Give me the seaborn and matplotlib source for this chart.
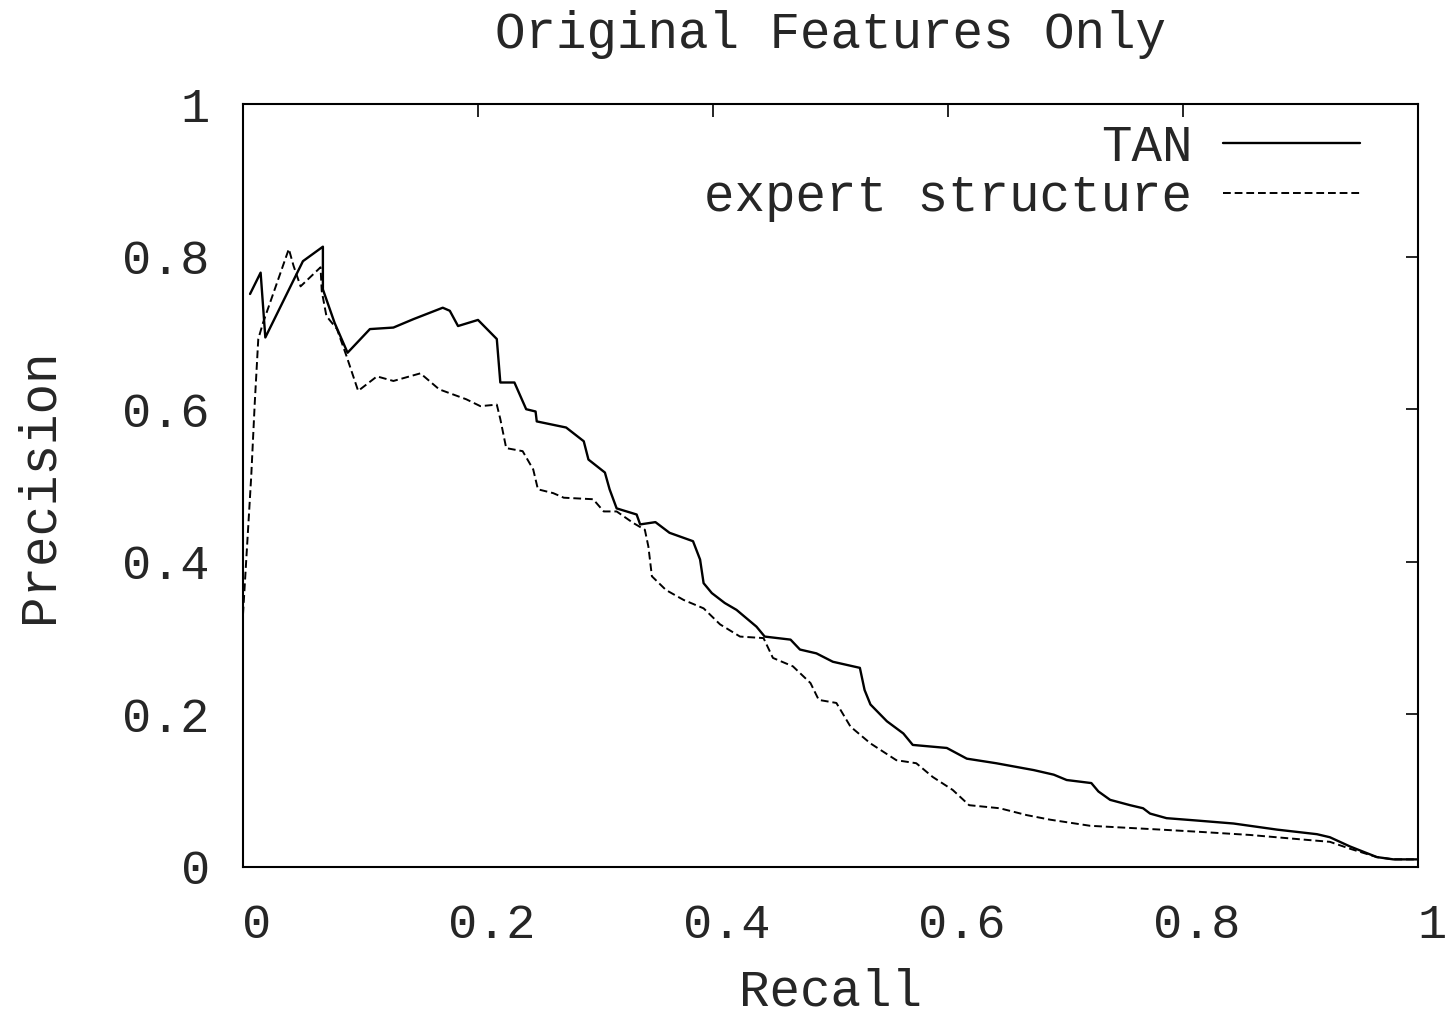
import pandas as pd
import matplotlib
matplotlib.use("Agg")
import matplotlib.pyplot as plt
import matplotlib.transforms as mtransforms
import seaborn as sns

# values
tan_recall = [0.006, 0.015, 0.019, 0.051, 0.068, 0.068, 0.078, 0.089, 0.108, 0.128,
              0.145, 0.170, 0.176, 0.183, 0.200, 0.216, 0.219, 0.231, 0.241, 0.249,
              0.250, 0.275, 0.290, 0.294, 0.308, 0.312, 0.318, 0.335, 0.338, 0.351,
              0.363, 0.383, 0.389, 0.392, 0.399, 0.410, 0.420, 0.437, 0.444, 0.466,
              0.474, 0.488, 0.502, 0.525, 0.529, 0.534, 0.548, 0.562, 0.570, 0.599,
              0.616, 0.641, 0.673, 0.690, 0.701, 0.722, 0.728, 0.738, 0.755, 0.766,
              0.772, 0.786, 0.811, 0.843, 0.880, 0.914, 0.925, 0.942, 0.965, 0.979,
              1.000]
tan_precision = [0.751, 0.779, 0.694, 0.794, 0.813, 0.757, 0.713, 0.674, 0.705, 0.707,
                 0.718, 0.733, 0.729, 0.709, 0.717, 0.692, 0.635, 0.635, 0.600, 0.597,
                 0.584, 0.576, 0.558, 0.534, 0.517, 0.495, 0.470, 0.462, 0.449, 0.452,
                 0.438, 0.427, 0.403, 0.372, 0.359, 0.346, 0.337, 0.315, 0.302, 0.298,
                 0.285, 0.280, 0.269, 0.261, 0.232, 0.213, 0.191, 0.175, 0.160, 0.156,
                 0.142, 0.136, 0.127, 0.121, 0.114, 0.110, 0.099, 0.088, 0.081, 0.077,
                 0.070, 0.064, 0.061, 0.057, 0.049, 0.043, 0.039, 0.027, 0.013, 0.010,
                 0.010]

expert_recall = [0.000, 0.007, 0.010, 0.013, 0.017, 0.039, 0.043, 0.049, 0.066, 0.067,
                 0.071, 0.080, 0.088, 0.098, 0.114, 0.128, 0.151, 0.167, 0.190, 0.202,
                 0.216, 0.219, 0.224, 0.238, 0.247, 0.251, 0.264, 0.273, 0.298, 0.307,
                 0.318, 0.332, 0.342, 0.345, 0.348, 0.360, 0.375, 0.392, 0.406, 0.423,
                 0.443, 0.451, 0.468, 0.483, 0.490, 0.505, 0.517, 0.534, 0.556, 0.573,
                 0.587, 0.604, 0.618, 0.644, 0.667, 0.687, 0.721, 0.781, 0.815, 0.857,
                 0.902, 0.925, 0.942, 0.965, 0.979, 1.000]
expert_precision = [0.331, 0.512, 0.608, 0.692, 0.713, 0.810, 0.788, 0.761, 0.786, 0.755,
                    0.722, 0.705, 0.670, 0.624, 0.643, 0.637, 0.647, 0.626, 0.613, 0.604,
                    0.606, 0.587, 0.549, 0.545, 0.521, 0.495, 0.490, 0.484, 0.482, 0.466,
                    0.466, 0.451, 0.442, 0.420, 0.381, 0.363, 0.350, 0.339, 0.318, 0.302,
                    0.300, 0.274, 0.263, 0.241, 0.219, 0.215, 0.184, 0.162, 0.140, 0.136,
                    0.118, 0.101, 0.081, 0.077, 0.068, 0.062, 0.054, 0.049, 0.046, 0.042,
                    0.036, 0.033, 0.024, 0.013, 0.010, 0.010]

ticks = [0, 0.2, 0.4, 0.6, 0.8, 1]
tick_labels = ["0", "0.2", "0.4", "0.6", "0.8", "1"]

tan = pd.DataFrame({"Recall": tan_recall, "Precision": tan_precision})
expert = pd.DataFrame({"Recall": expert_recall, "Precision": expert_precision})

sns.set_style("white")
plt.rcParams["font.family"] = ["Liberation Mono", "DejaVu Sans Mono"]
fs_tick = 35
fs = 36.6

fig = plt.figure(figsize=(14.5, 10.17), dpi=100)
ax = fig.add_axes([243 / 1450, 150 / 1017, 1175 / 1450, 763 / 1017])

sns.lineplot(data=tan, x="Recall", y="Precision", ax=ax, sort=False, estimator=None,
             color="black", lw=1.7, label="TAN")
sns.lineplot(data=expert, x="Recall", y="Precision", ax=ax, sort=False, estimator=None,
             color="black", lw=1.4, linestyle=(0, (4, 2)), label="expert structure")

ax.set_xlim(0, 1)
ax.set_ylim(0, 1)
ax.set_xticks(ticks, tick_labels)
ax.set_yticks(ticks, tick_labels)
ax.tick_params(direction="in", length=9, width=1.2, top=True, right=True,
               labelsize=fs_tick, color="black")
ax.tick_params(axis="x", pad=26)
ax.tick_params(axis="y", pad=24)
for s in ax.spines.values():
    s.set_color("black")
    s.set_linewidth(1.5)

# gnuplot puts the x labels a bit right of the ticks
shift = mtransforms.ScaledTranslation(0.14, 0, fig.dpi_scale_trans)
for lab in ax.get_xticklabels():
    lab.set_transform(lab.get_transform() + shift)

ax.set_title("Original Features Only", fontsize=fs, pad=40)
ax.set_xlabel("Recall", fontsize=fs, labelpad=14)
ax.set_ylabel("Precision", fontsize=fs, labelpad=42)

ax.legend(loc="upper right", bbox_to_anchor=(0.981, 1.022), frameon=False,
          markerfirst=False, fontsize=fs, handlelength=2.7, handletextpad=0.6,
          labelspacing=0.02, borderaxespad=0.3)

fig.savefig("out.png", dpi=100, facecolor="white")
